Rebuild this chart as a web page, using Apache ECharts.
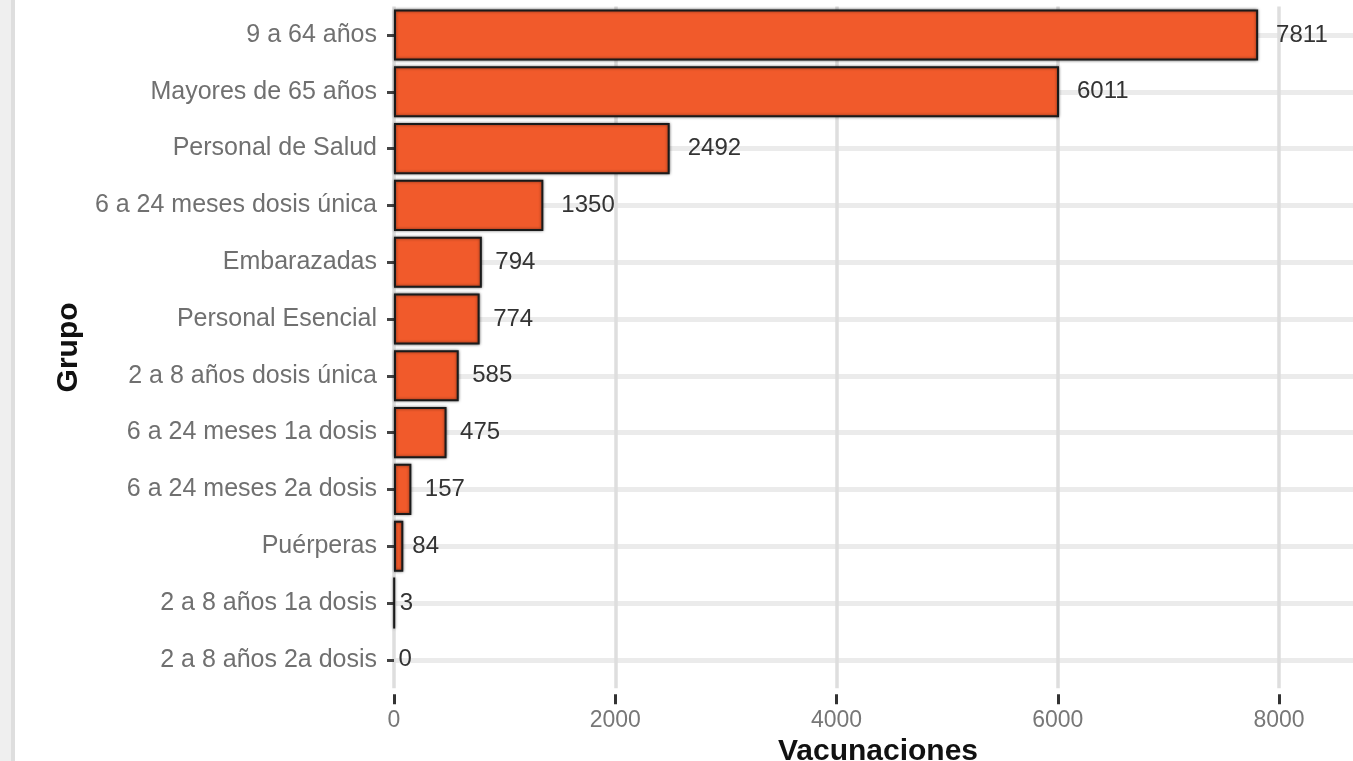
<!DOCTYPE html>
<html>
<head>
<meta charset="utf-8">
<script src="https://cdn.jsdelivr.net/npm/echarts@6/dist/echarts.min.js"></script>
<style>
html,body{margin:0;padding:0;background:#fff;}
#chart{width:1353px;height:761px;}
</style>
</head>
<body>
<div id="chart"></div>
<script>
const categories = ['9 a 64 años','Mayores de 65 años','Personal de Salud','6 a 24 meses dosis única','Embarazadas','Personal Esencial','2 a 8 años dosis única','6 a 24 meses 1a dosis','6 a 24 meses 2a dosis','Puérperas','2 a 8 años 1a dosis','2 a 8 años 2a dosis'];
const vacunaciones = [7811, 6011, 2492, 1350, 794, 774, 585, 475, 157, 84, 3, 0];
const xTickStep = 2000;
const xMax = 8750;

const FONT = '"Liberation Sans", Arial, sans-serif';
const chart = echarts.init(document.getElementById('chart'), null, {renderer: 'canvas'});

const seriesData = vacunaciones.map(v => {
  const item = { value: v, label: { distance: 4.5 * String(v).length } };
  if (v === 0) item.itemStyle = { borderWidth: 0, shadowBlur: 0 };
  return item;
});

chart.setOption({
  animation: false,
  backgroundColor: '#ffffff',
  graphic: [
    { type: 'rect', left: 0, top: 0, shape: { width: 11, height: 761 }, style: { fill: '#efefef' }, silent: true },
    { type: 'rect', left: 11, top: 0, shape: { width: 4, height: 761 }, style: { fill: '#dedede' }, silent: true }
  ],
  grid: { left: 394, top: 6.6, width: 968, height: 681.6, containLabel: false, outerBoundsMode: 'none' },
  xAxis: {
    type: 'value',
    min: 0,
    max: xMax,
    interval: xTickStep,
    offset: 6,
    name: 'Vacunaciones',
    nameLocation: 'middle',
    nameGap: 40,
    nameTextStyle: { fontFamily: FONT, fontSize: 30, fontWeight: 'bold', color: '#111' },
    axisLine: { show: false },
    axisTick: { show: true, length: 10, lineStyle: { color: '#333', width: 3 } },
    axisLabel: { fontFamily: FONT, fontSize: 23, color: '#777', margin: 15, showMaxLabel: false, formatter: v => String(v) },
    splitLine: { show: true, lineStyle: { color: '#dedede', width: 3.5 } }
  },
  yAxis: {
    type: 'category',
    data: categories,
    inverse: true,
    name: 'Grupo',
    nameLocation: 'middle',
    nameGap: 300,
    nameRotate: 90,
    nameTextStyle: { fontFamily: FONT, fontSize: 30, fontWeight: 'bold', color: '#111' },
    axisLine: { show: false },
    axisTick: { show: true, alignWithLabel: true, length: 7, lineStyle: { color: '#444', width: 3 } },
    axisLabel: { fontFamily: FONT, fontSize: 25, color: '#707070', margin: 17 },
    splitLine: { show: true, alignWithLabel: true, lineStyle: { color: '#ebebeb', width: 5 } }
  },
  series: [{
    type: 'bar',
    data: seriesData,
    barWidth: '90%',
    itemStyle: {
      color: '#F15A2B',
      borderColor: '#1a1a1a',
      borderWidth: 2,
      shadowBlur: 3,
      shadowColor: 'rgba(0,0,0,0.5)'
    },
    label: {
      show: true,
      position: 'right',
      fontFamily: FONT,
      fontSize: 24,
      color: '#333'
    }
  }]
});
</script>
</body>
</html>
